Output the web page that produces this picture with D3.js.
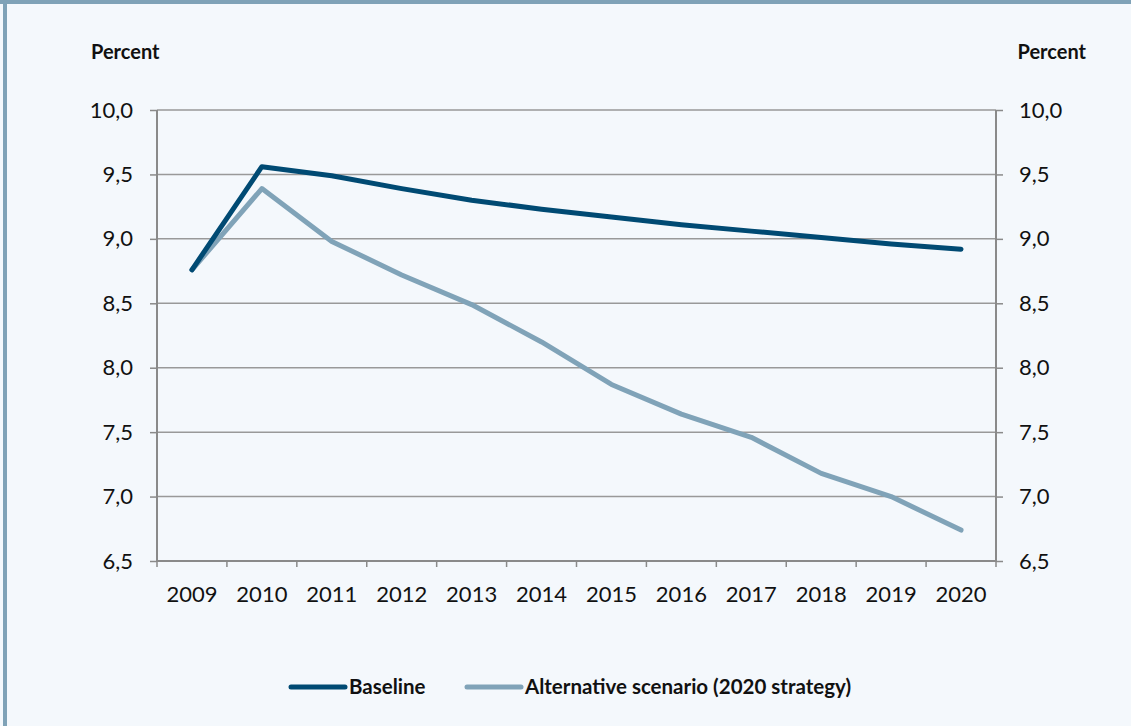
<!DOCTYPE html>
<html>
<head>
<meta charset="utf-8">
<script src="https://cdn.jsdelivr.net/npm/d3@7"></script>
<style>
  html, body { margin: 0; padding: 0; background: #f4f8fc; }
  svg { display: block; font-family: Lato, "Open Sans", sans-serif; }
</style>
</head>
<body>
<svg id="chart" width="1131" height="726"></svg>
<script>
// Unemployment rate, percent
const years = ["2009","2010","2011","2012","2013","2014","2015","2016","2017","2018","2019","2020"];
const baseline = [8.76, 9.56, 9.49, 9.39, 9.30, 9.23, 9.17, 9.11, 9.06, 9.01, 8.96, 8.92];
const alternative = [8.76, 9.39, 8.98, 8.72, 8.49, 8.20, 7.87, 7.64, 7.46, 7.18, 7.00, 6.74];
const yTicks = [6.5, 7.0, 7.5, 8.0, 8.5, 9.0, 9.5, 10.0];
const seriesNames = ["Baseline", "Alternative scenario (2020 strategy)"];
const seriesColors = ["#004a73", "#80a3b8"];

const svg = d3.select("#chart");
const W = 1131, H = 726;
const frame = "#7fa2b7";
const axisColor = "#8a8a8a";

// panel frame: top strip and left edge
svg.append("rect").attr("x", 0).attr("y", 0).attr("width", W).attr("height", 4).attr("fill", frame);
svg.append("rect").attr("x", 3).attr("y", 0).attr("width", 4).attr("height", H).attr("fill", frame);

const m = { left: 157, right: 996, top: 110, bottom: 561 };

const x = d3.scaleBand().domain(years).range([m.left, m.right]);
const y = d3.scaleLinear().domain([6.5, 10.0]).range([m.bottom, m.top]);
const fmt = d => d.toFixed(1).replace(".", ",");

// horizontal gridlines
svg.append("g")
  .selectAll("line")
  .data(yTicks.filter(v => v > 6.5))
  .join("line")
  .attr("x1", m.left).attr("x2", m.right)
  .attr("y1", d => y(d)).attr("y2", d => y(d))
  .attr("stroke", "#999").attr("stroke-width", 1.5);

// left axis
const yLeft = svg.append("g")
  .attr("transform", `translate(${m.left},0)`)
  .call(d3.axisLeft(y).tickValues(yTicks).tickFormat(fmt).tickSize(7).tickPadding(17));

// right axis
const yRight = svg.append("g")
  .attr("transform", `translate(${m.right},0)`)
  .call(d3.axisRight(y).tickValues(yTicks).tickFormat(fmt).tickSize(7).tickPadding(16));

// bottom axis with ticks at category boundaries
const xAxis = svg.append("g")
  .attr("transform", `translate(0,${m.bottom})`)
  .call(d3.axisBottom(x).tickSize(0).tickPadding(25));
xAxis.selectAll(".tick line").remove();
const bounds = years.map(d => x(d)).concat([x.range()[1]]);
xAxis.selectAll("line.bound")
  .data(bounds)
  .join("line")
  .attr("class", "bound")
  .attr("x1", d => d).attr("x2", d => d)
  .attr("y1", 0).attr("y2", 6)
  .attr("stroke", axisColor).attr("stroke-width", 1.5);

[yLeft, yRight, xAxis].forEach(g => {
  g.select(".domain").attr("stroke", axisColor).attr("stroke-width", 2);
  g.selectAll(".tick line").attr("stroke", axisColor).attr("stroke-width", 1.5);
  g.selectAll(".tick text").attr("fill", "#111").attr("font-size", 22)
    .attr("font-family", "Lato, 'Open Sans', sans-serif");
});
yLeft.select(".domain").attr("d", `M0,${m.bottom}V${m.top}`);
yRight.select(".domain").attr("d", `M0,${m.bottom}V${m.top}`);
xAxis.select(".domain").attr("d", `M${m.left},0H${m.right}`);

// axis titles
svg.append("text").attr("x", 91).attr("y", 59)
  .attr("font-size", 20).attr("font-weight", 700).attr("fill", "#111").text("Percent");
svg.append("text").attr("x", 1086).attr("y", 59).attr("text-anchor", "end")
  .attr("font-size", 20).attr("font-weight", 700).attr("fill", "#111").text("Percent");

// series lines
const line = d3.line()
  .x((d, i) => x(years[i]) + x.bandwidth() / 2)
  .y(d => y(d));

[alternative, baseline].forEach((s, k) => {
  const idx = k === 0 ? 1 : 0;
  svg.append("path")
    .datum(s)
    .attr("d", line)
    .attr("fill", "none")
    .attr("stroke", seriesColors[idx])
    .attr("stroke-width", 5)
    .attr("stroke-linejoin", "round")
    .attr("stroke-linecap", "round");
});

// legend
const legendItems = [
  { name: seriesNames[0], color: seriesColors[0], x0: 291 },
  { name: seriesNames[1], color: seriesColors[1], x0: 467 }
];
const ly = 687;
legendItems.forEach(it => {
  svg.append("line")
    .attr("x1", it.x0).attr("x2", it.x0 + 54)
    .attr("y1", ly).attr("y2", ly)
    .attr("stroke", it.color).attr("stroke-width", 5).attr("stroke-linecap", "round");
  svg.append("text")
    .attr("x", it.x0 + 58).attr("y", ly + 7)
    .attr("font-size", 20.5).attr("font-weight", 700).attr("fill", "#111")
    .text(it.name);
});
</script>
</body>
</html>
